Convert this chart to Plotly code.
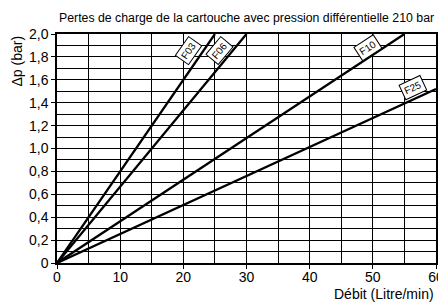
import plotly.graph_objects as go

x_ticks = [0, 10, 20, 30, 40, 50, 60]
y_ticks = [0, 0.2, 0.4, 0.6, 0.8, 1.0, 1.2, 1.4, 1.6, 1.8, 2.0]
y_tick_labels = ["0", "0,2", "0,4", "0,6", "0,8", "1,0", "1,2", "1,4", "1,6", "1,8", "2,0"]

series_names = ["F03", "F06", "F10", "F25"]
series_x = [[0, 25], [0, 30], [0, 55], [0, 60]]
series_y = [[0, 2.0], [0, 2.0], [0, 2.0], [0, 1.52]]
label_x = [20.8, 25.7, 49.3, 56.4]
label_y = [1.86, 1.86, 1.88, 1.53]
label_angle = [-55, -50, -33, -25]

fig = go.Figure()
for name, xs, ys in zip(series_names, series_x, series_y):
    fig.add_trace(go.Scatter(x=xs, y=ys, mode="lines", name=name,
                             line=dict(color="black", width=2.3),
                             showlegend=False, hoverinfo="skip"))

for name, lx, ly, ang in zip(series_names, label_x, label_y, label_angle):
    fig.add_annotation(x=lx, y=ly, text=name, showarrow=False, textangle=ang,
                       font=dict(family="Liberation Sans, Arial", size=10, color="black"),
                       bgcolor="white", bordercolor="black", borderwidth=1, borderpad=2)

axis_common = dict(showline=True, linecolor="black", linewidth=1.5, mirror=True,
                   showgrid=True, gridcolor="black", gridwidth=1.4,
                   ticks="outside", ticklen=4, tickcolor="black", tickwidth=1,
                   zeroline=False, automargin=False,
                   tickfont=dict(family="Liberation Sans, Arial", size=14, color="black"))

fig.update_xaxes(range=[0, 60], tickvals=x_ticks, ticktext=[str(v) for v in x_ticks],
                 ticklabelstandoff=-4,
                 minor=dict(dtick=5, tick0=0, showgrid=True, gridcolor="black", gridwidth=1.4, ticks=""),
                 **axis_common)
fig.update_yaxes(range=[0, 2.0], tickvals=y_ticks, ticktext=y_tick_labels,
                 minor=dict(dtick=0.1, tick0=0, showgrid=True, gridcolor="black", gridwidth=1.4, ticks=""),
                 **axis_common)

fig.add_annotation(text="Pertes de charge de la cartouche avec pression différentielle 210 bar",
                   xref="paper", yref="paper", x=0.5, y=1.0, yshift=7, xanchor="center", yanchor="bottom",
                   showarrow=False,
                   font=dict(family="Liberation Sans, Arial", size=12.3, color="black"))
fig.add_annotation(text="Débit (Litre/min)", xref="paper", yref="paper", x=1.0, y=0,
                   yshift=-41, xanchor="right", yanchor="bottom", showarrow=False,
                   font=dict(family="Liberation Sans, Arial", size=14, color="black"))
fig.add_annotation(text="Δp (bar)", xref="paper", yref="paper", x=0, y=1.0,
                   xshift=-41, xanchor="center", yanchor="top", textangle=-90, showarrow=False,
                   font=dict(family="Liberation Sans, Arial", size=14, color="black"))

fig.update_layout(width=438, height=296, margin=dict(l=49, r=10, t=26, b=41),
                  plot_bgcolor="white", paper_bgcolor="white", showlegend=False)

fig.write_html("out.html")
